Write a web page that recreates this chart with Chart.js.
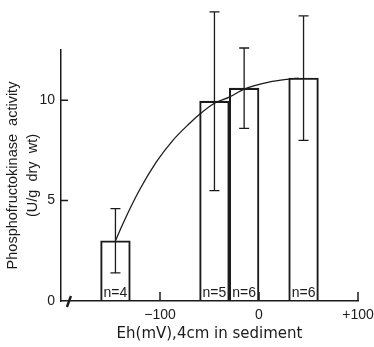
<!DOCTYPE html>
<html>
<head>
<meta charset="utf-8">
<script src="https://cdn.jsdelivr.net/npm/chart.js@4.4.1/dist/chart.umd.min.js"></script>
<style>
  html, body { margin: 0; padding: 0; background: #fff; }
  #wrap { width: 374px; height: 347px; }
</style>
</head>
<body>
<div id="wrap"><canvas id="chart" width="374" height="347"></canvas></div>
<script>
// bar centres (Eh, mV), mean activity and error half-width
const ehMid = [-145, -45, -15, 45]
const activity = [3.0, 9.95, 10.6, 11.1]
const errHalf = [1.6, 4.45, 2.0, 3.1]
const sampleN = ["n=4", "n=5", "n=6", "n=6"]

// fitted curve
const curveEh = [-145, -137, -121, -104, -87, -70, -60, -45, -30, -15, 10, 30, 40]
const curveAct = [3.0, 3.9, 5.5, 6.9, 8.0, 8.85, 9.3, 9.85, 10.15, 10.55, 10.9, 11.05, 11.1]

const xTickLabels = { "-100": "\u2212100", "0": "0", "100": "+100" }
const yTickLabels = { "0": "0", "5": "5", "10": "10" }
const xInnerTicks = [-100, 0, 100]
const yInnerTicks = [5, 10]
const breakAt = -192

const INK = "#1b1b1b"

// error bars, inward ticks, n= labels and the axis break
const extras = {
  id: "extras",
  afterDatasetsDraw(chart) {
    const { ctx, chartArea } = chart
    const xs = chart.scales.x
    const ys = chart.scales.y
    ctx.save()
    ctx.strokeStyle = INK
    ctx.lineWidth = 1.3

    // error bars
    ehMid.forEach((eh, i) => {
      const px = xs.getPixelForValue(eh)
      const hi = ys.getPixelForValue(activity[i] + errHalf[i])
      const lo = ys.getPixelForValue(activity[i] - errHalf[i])
      ctx.beginPath()
      ctx.moveTo(px, hi)
      ctx.lineTo(px, lo)
      ctx.moveTo(px - 5, hi)
      ctx.lineTo(px + 5, hi)
      ctx.moveTo(px - 5, lo)
      ctx.lineTo(px + 5, lo)
      ctx.stroke()
    })

    // inward ticks
    ctx.lineWidth = 1.5
    ctx.beginPath()
    yInnerTicks.forEach((v) => {
      const py = ys.getPixelForValue(v)
      ctx.moveTo(chartArea.left, py)
      ctx.lineTo(chartArea.left + 7, py)
    })
    xInnerTicks.forEach((v) => {
      const px = xs.getPixelForValue(v)
      ctx.moveTo(px, chartArea.bottom)
      ctx.lineTo(px, chartArea.bottom - 9)
    })
    ctx.stroke()

    // axis break
    const bx = xs.getPixelForValue(breakAt)
    ctx.lineWidth = 2.4
    ctx.beginPath()
    ctx.moveTo(bx - 2, chartArea.bottom + 6)
    ctx.lineTo(bx + 2, chartArea.bottom - 5)
    ctx.stroke()

    // sample sizes
    ctx.fillStyle = INK
    ctx.font = "14px 'Liberation Sans', Arial, sans-serif"
    ctx.textAlign = "center"
    ctx.textBaseline = "alphabetic"
    const base = ys.getPixelForValue(0) - 4
    sampleN.forEach((t, i) => {
      ctx.fillText(t, xs.getPixelForValue(ehMid[i]), base)
    })
    ctx.restore()
  },
}

new Chart(document.getElementById("chart"), {
  data: {
    datasets: [
      {
        type: "line",
        data: curveEh.map((x, i) => ({ x, y: curveAct[i] })),
        borderColor: INK,
        borderWidth: 1.3,
        pointRadius: 0,
        fill: false,
        cubicInterpolationMode: "monotone",
      },
      {
        type: "bar",
        data: ehMid.map((x, i) => ({ x, y: activity[i] })),
        backgroundColor: "rgba(0,0,0,0)",
        borderColor: INK,
        borderWidth: 1.4,
        barPercentage: 1,
        categoryPercentage: 1,
      },
    ],
  },
  options: {
    responsive: false,
    animation: false,
    events: [],
    layout: { padding: { top: 50, right: 16, left: 0, bottom: 0 } },
    plugins: { legend: { display: false }, tooltip: { enabled: false } },
    scales: {
      x: {
        type: "linear",
        min: -200,
        max: 100,
        offset: false,
        grid: { display: false, drawTicks: false, offset: false },
        border: { display: true, color: INK, width: 1.5 },
        ticks: {
          stepSize: 100,
          padding: 6,
          color: INK,
          maxRotation: 0,
          font: { family: "'Liberation Sans', Arial, sans-serif", size: 14 },
          callback: (v) => xTickLabels[String(v)] ?? "",
        },
        title: {
          display: true,
          text: "Eh(mV),4cm in sediment",
          color: INK,
          font: { family: "'DejaVu Sans', sans-serif", size: 15 },
          padding: { top: 0, bottom: 4 },
        },
        afterFit: (s) => {
          s.height = 46
          s.paddingLeft = 0
          s.paddingRight = 0
        },
      },
      y: {
        type: "linear",
        min: 0,
        max: 12.5,
        grid: { display: false, drawTicks: false },
        border: { display: true, color: INK, width: 1.5 },
        ticks: {
          stepSize: 5,
          padding: 6,
          color: INK,
          font: { family: "'Liberation Sans', Arial, sans-serif", size: 14 },
          callback: (v) => yTickLabels[String(v)] ?? null,
        },
        title: {
          display: true,
          text: ["Phosphofructokinase  activity", "(U/g  dry  wt)"],
          color: INK,
          font: { family: "'Liberation Sans', Arial, sans-serif", size: 14.5, lineHeight: 1.38 },
          padding: { top: 3, bottom: 0 },
        },
        afterFit: (s) => {
          s.width = 61
          s.paddingTop = 0
          s.paddingBottom = 0
        },
      },
    },
  },
  plugins: [extras],
})
</script>
</body>
</html>
